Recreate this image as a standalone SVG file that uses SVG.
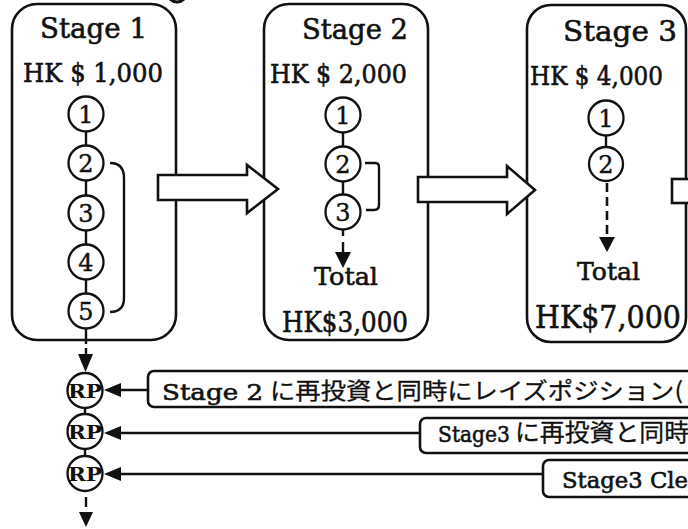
<svg xmlns="http://www.w3.org/2000/svg" width="688" height="529" viewBox="0 0 688 529">
<style>
.box{fill:#fff;stroke:#111;stroke-width:2.6}
.c{fill:#fff;stroke:#111;stroke-width:2.3}
.ln{stroke:#111;stroke-width:2.4;fill:none}
.dash{stroke:#111;stroke-width:2.6;fill:none;stroke-dasharray:9 5}
.ah{fill:#111}
.big{fill:#fff;stroke:#111;stroke-width:2.6;stroke-linejoin:miter}
.lbl{fill:#fff;stroke:#111;stroke-width:2.6}
.t{font-family:"DejaVu Serif","Liberation Serif",serif;fill:#111;stroke:#111;stroke-width:0.6}
.n{font-family:"DejaVu Serif","Liberation Serif",serif;fill:#111;font-size:24px;text-anchor:middle;stroke:#111;stroke-width:0.4}
.rp{font-family:"DejaVu Serif","Liberation Serif",serif;fill:#111;font-size:19px;font-weight:bold;text-anchor:middle}
.jp{font-family:"Noto Sans CJK JP",sans-serif;fill:#111;stroke:#111;stroke-width:0.3}
</style>
<rect width="688" height="529" fill="#fff"/>
<path d="M170,-1 Q177,5 184,-1" fill="none" stroke="#111" stroke-width="3"/>

<g id="stage1">
<rect class="box" x="12" y="4" width="164" height="336" rx="25"/>
<text class="t" x="40" y="38" font-size="28" textLength="107" lengthAdjust="spacingAndGlyphs">Stage 1</text>
<text class="t" x="23" y="82" font-size="26" textLength="140" lengthAdjust="spacingAndGlyphs">HK $ 1,000</text>
<circle class="c" cx="86" cy="114" r="17.5"/><text class="n" x="86" y="122.5">1</text>
<circle class="c" cx="86" cy="163" r="17.5"/><text class="n" x="86" y="171.5">2</text>
<circle class="c" cx="86" cy="213" r="17.5"/><text class="n" x="86" y="221.5">3</text>
<circle class="c" cx="86" cy="262" r="17.5"/><text class="n" x="86" y="270.5">4</text>
<circle class="c" cx="86" cy="311" r="17.5"/><text class="n" x="86" y="319.5">5</text>
<path class="ln" d="M110,163 Q124,163 124,178 V298 Q124,312 110,312"/>
</g>

<g id="stage2">
<rect class="box" x="264" y="4" width="164" height="336" rx="25"/>
<text class="t" x="302" y="39" font-size="28" textLength="106" lengthAdjust="spacingAndGlyphs">Stage 2</text>
<text class="t" x="270" y="83" font-size="26" textLength="137" lengthAdjust="spacingAndGlyphs">HK $ 2,000</text>
<circle class="c" cx="343" cy="115" r="17.5"/><text class="n" x="343" y="123.5">1</text>
<circle class="c" cx="343" cy="164" r="17.5"/><text class="n" x="343" y="172.5">2</text>
<circle class="c" cx="343" cy="212" r="17.5"/><text class="n" x="343" y="220.5">3</text>
<path class="ln" d="M365,163 H375 Q379,163 379,167 V205 Q379,210 374,210 H366"/>
<text class="t" x="314" y="285" font-size="25" textLength="64" lengthAdjust="spacingAndGlyphs">Total</text>
<text class="t" x="282" y="332" font-size="28" textLength="126" lengthAdjust="spacingAndGlyphs">HK$3,000</text>
</g>

<g id="stage3">
<rect class="box" x="527" y="5" width="159" height="337" rx="24"/>
<text class="t" x="563" y="41" font-size="28" textLength="114" lengthAdjust="spacingAndGlyphs">Stage 3</text>
<text class="t" x="530" y="85" font-size="26" textLength="133" lengthAdjust="spacingAndGlyphs">HK $ 4,000</text>
<circle class="c" cx="606" cy="118" r="17.5"/><text class="n" x="606" y="126.5">1</text>
<circle class="c" cx="606" cy="164" r="17"/><text class="n" x="606" y="172.5">2</text>
<text class="t" x="577" y="280" font-size="25" textLength="63" lengthAdjust="spacingAndGlyphs">Total</text>
<text class="t" x="535" y="328" font-size="32" textLength="146" lengthAdjust="spacingAndGlyphs">HK$7,000</text>
</g>

<g id="rp1"><circle class="c" cx="85" cy="390.5" r="17.5"/><text class="rp" x="85" y="397.5" textLength="34" lengthAdjust="spacingAndGlyphs">RP</text></g>
<g id="rp2"><circle class="c" cx="85" cy="431.5" r="17.5"/><text class="rp" x="85" y="438.5" textLength="34" lengthAdjust="spacingAndGlyphs">RP</text></g>
<g id="rp3"><circle class="c" cx="85" cy="473.5" r="17.5"/><text class="rp" x="85" y="480.5" textLength="34" lengthAdjust="spacingAndGlyphs">RP</text></g>

<g id="label1">
<rect class="lbl" x="148" y="371" width="560" height="36" rx="6"/>
<text class="t" x="162" y="400" font-size="23" textLength="101" lengthAdjust="spacingAndGlyphs">Stage 2</text>
<text class="jp" x="270" y="399" font-size="23" textLength="413" lengthAdjust="spacingAndGlyphs">に再投資と同時にレイズポジション(</text>
</g>
<g id="label2">
<rect class="lbl" x="420" y="418" width="300" height="35" rx="6"/>
<text class="t" x="438" y="442" font-size="23" textLength="72" lengthAdjust="spacingAndGlyphs">Stage3</text>
<text class="jp" x="515" y="441" font-size="24" textLength="174" lengthAdjust="spacingAndGlyphs">に再投資と同時</text>
</g>
<g id="label3">
<rect class="lbl" x="543" y="460" width="200" height="37" rx="6"/>
<text class="t" x="562" y="488" font-size="23" textLength="126" lengthAdjust="spacingAndGlyphs">Stage3 Cle</text>
</g>

<g id="connectors">
<path class="ln" d="M86,131.5 V145.5 M86,180.5 V195.5 M86,230.5 V244.5 M86,279.5 V293.5"/>
<path class="ln" d="M86,328.5 V344 M86,348 V356"/>
<polygon class="ah" points="78,354 93,354 85.5,372"/>
<path class="ln" d="M343,132.5 V146.5 M343,181.5 V194.5"/>
<path class="ln" d="M343,229.5 V236 M343,242 V254"/>
<polygon class="ah" points="335,252 351,252 343,268"/>
<path class="ln" d="M606,135.5 V147"/>
<path class="dash" d="M607,183 V238"/>
<polygon class="ah" points="599,237 615,237 607,252"/>
<path class="ln" d="M85,408 V414 M85,449 V456"/>
<path class="ln" d="M86,497 V507"/>
<polygon class="ah" points="79,512 93,512 86,527"/>
<path class="ln" d="M118,390 H148 M118,433 H420 M118,474 H543"/>
<polygon class="ah" points="104,390 121,383 121,397"/>
<polygon class="ah" points="104,433 121,426 121,440"/>
<polygon class="ah" points="104,474 121,467 121,481"/>
<polygon class="big" points="158,175 247,175 247,165 278,189 247,213 247,200 158,200"/>
<polygon class="big" points="418,177 507,177 507,166 535,190 507,214 507,202 418,202"/>
<rect class="big" x="672" y="179" width="40" height="24"/>
</g>
</svg>
